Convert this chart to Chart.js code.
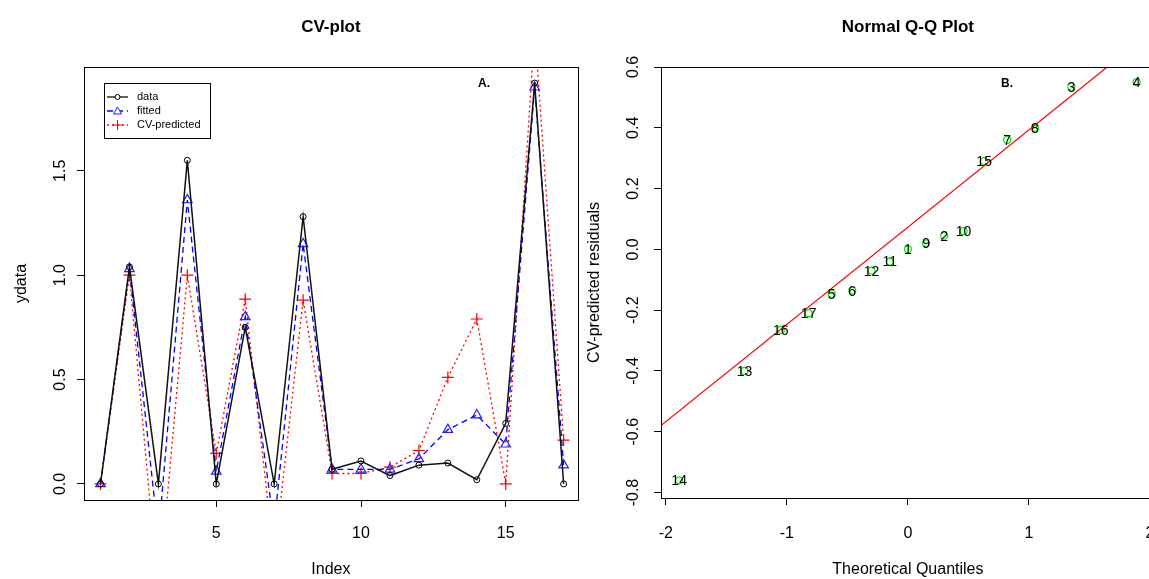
<!DOCTYPE html>
<html>
<head>
<meta charset="utf-8">
<script src="https://cdn.jsdelivr.net/npm/chart.js@4.4.0/dist/chart.umd.min.js"></script>
<style>
  body { margin: 0; background: #fff; overflow: hidden; width: 1149px; height: 579px; position: relative; }
  canvas { position: absolute; top: 0; }
  #cvPlot { left: 0; }
  #qqPlot { left: 585px; }
</style>
</head>
<body>
<canvas id="cvPlot" width="585" height="579"></canvas>
<canvas id="qqPlot" width="575" height="579"></canvas>
<script>
// CV-plot data (index 1..17)
const indexValues = [1, 2, 3, 4, 5, 6, 7, 8, 9, 10, 11, 12, 13, 14, 15, 16, 17];
const ydata = [0.0, 1.04, 0.0, 1.55, 0.0, 0.75, 0.0, 1.28, 0.07, 0.11, 0.04, 0.09, 0.10, 0.02, 0.29, 1.92, 0.0];
const fitted = [0.0, 1.03, -0.25, 1.36, 0.06, 0.80, -0.20, 1.15, 0.07, 0.07, 0.07, 0.12, 0.26, 0.33, 0.19, 1.90, 0.09];
const cvPredicted = [0.0, 1.0, -0.535, 1.0, 0.146, 0.885, -0.36, 0.88, 0.05, 0.05, 0.08, 0.16, 0.51, 0.79, 0.0, 2.18, 0.21];
const cvXTicks = [5, 10, 15];
const cvYTicks = [0.0, 0.5, 1.0, 1.5];

// Normal Q-Q data (sorted by theoretical quantile)
const qqLabels = ['14', '13', '16', '17', '5', '6', '12', '11', '1', '9', '2', '10', '15', '7', '8', '3', '4'];
const qqTheoretical = [-1.89, -1.35, -1.05, -0.82, -0.63, -0.46, -0.30, -0.15, 0.0, 0.15, 0.30, 0.46, 0.63, 0.82, 1.05, 1.35, 1.89];
const qqResiduals = [-0.76, -0.40, -0.265, -0.21, -0.146, -0.136, -0.07, -0.04, 0.0, 0.02, 0.045, 0.06, 0.29, 0.36, 0.40, 0.535, 0.55];
const qqLineIntercept = 0.073;
const qqLineSlope = 0.32;
const qqXTicks = [-2, -1, 0, 1, 2];
const qqYTicks = [-0.8, -0.6, -0.4, -0.2, 0.0, 0.2, 0.4, 0.6];

const fam = '"Liberation Sans", Arial, sans-serif';
Chart.defaults.font.family = fam;
Chart.defaults.font.size = 16;
Chart.defaults.color = '#000';

// R-like frame, rotated y tick labels, title, tag letter
const rPanel = {
  id: 'rPanel',
  afterDraw(chart, args, opts) {
    const ctx = chart.ctx;
    const a = chart.chartArea;
    ctx.save();
    ctx.strokeStyle = '#000';
    ctx.lineWidth = 1;
    ctx.strokeRect(Math.round(a.left) + 0.5, Math.round(a.top) + 0.5, Math.round(a.right - a.left), Math.round(a.bottom - a.top));

    const ys = chart.scales.y;
    ctx.fillStyle = '#000';
    ctx.font = '16px ' + fam;
    ctx.textAlign = 'center';
    ctx.textBaseline = 'middle';
    ys.ticks.forEach(t => {
      const py = ys.getPixelForValue(t.value);
      ctx.save();
      ctx.translate(opts.yLabelX, py);
      ctx.rotate(-Math.PI / 2);
      ctx.fillText(t.label, 0, 0);
      ctx.restore();
    });

    ctx.font = 'bold 17px ' + fam;
    ctx.fillText(opts.title, (a.left + a.right) / 2, 27);

    ctx.font = 'bold 12px ' + fam;
    ctx.fillText(opts.tag, opts.tagX, 84);
    ctx.restore();
  }
};

const cvLegend = {
  id: 'cvLegend',
  afterDraw(chart) {
    const ctx = chart.ctx;
    ctx.save();
    ctx.strokeStyle = '#000';
    ctx.lineWidth = 1;
    ctx.strokeRect(104.5, 83.5, 106, 55);
    ctx.font = '11px ' + fam;
    ctx.textAlign = 'left';
    ctx.textBaseline = 'middle';
    chart.data.datasets.forEach((ds, i) => {
      const y = 97 + i * 14;
      ctx.strokeStyle = ds.borderColor;
      ctx.lineWidth = 1.3;
      ctx.setLineDash(ds.borderDash || []);
      ctx.beginPath();
      ctx.moveTo(107, y);
      ctx.lineTo(128, y);
      ctx.stroke();
      ctx.setLineDash([]);
      ctx.strokeStyle = ds.pointBorderColor;
      ctx.lineWidth = 1;
      ctx.beginPath();
      if (ds.pointStyle === 'circle') {
        ctx.arc(117.5, y, 2.5, 0, Math.PI * 2);
      } else if (ds.pointStyle === 'triangle') {
        ctx.moveTo(117.5, y - 4);
        ctx.lineTo(121.5, y + 3);
        ctx.lineTo(113.5, y + 3);
        ctx.closePath();
      } else {
        ctx.moveTo(112.5, y);
        ctx.lineTo(122.5, y);
        ctx.moveTo(117.5, y - 5);
        ctx.lineTo(117.5, y + 5);
      }
      ctx.fillStyle = '#fff';
      if (ds.pointStyle !== 'cross') ctx.fill();
      ctx.stroke();
      ctx.fillStyle = '#000';
      ctx.fillText(ds.label, 137, y);
    });
    ctx.restore();
  }
};

const qqPointLabels = {
  id: 'qqPointLabels',
  afterDatasetsDraw(chart) {
    const ctx = chart.ctx;
    const meta = chart.getDatasetMeta(1);
    ctx.save();
    ctx.fillStyle = '#000';
    ctx.font = '14px ' + fam;
    ctx.textAlign = 'center';
    ctx.textBaseline = 'middle';
    meta.data.forEach((el, i) => {
      ctx.fillText(qqLabels[i], el.x, el.y + 1);
    });
    ctx.restore();
  }
};

function rAxis(min, max, ticks, fixedSize, title, titlePad, tickPad, isY) {
  return {
    type: 'linear',
    min: min,
    max: max,
    afterBuildTicks: s => { s.ticks = ticks.map(v => ({ value: v })); },
    afterFit: s => {
      if (isY) s.width = fixedSize; else s.height = fixedSize;
      s.paddingLeft = 0; s.paddingRight = 0; s.paddingTop = 0; s.paddingBottom = 0;
    },
    ticks: {
      color: isY ? 'rgba(0,0,0,0)' : '#000',
      padding: tickPad,
      font: { size: 16 },
      maxRotation: 0,
      callback: v => isY ? v.toFixed(1) : String(v)
    },
    grid: { drawOnChartArea: false, drawTicks: true, tickLength: 7, color: '#000', lineWidth: 1 },
    border: { display: true, color: '#000', width: 1 },
    title: { display: true, text: title, font: { size: 16 }, padding: titlePad, color: '#000' }
  };
}

new Chart(document.getElementById('cvPlot'), {
  type: 'line',
  data: {
    datasets: [
      {
        label: 'data',
        data: indexValues.map((x, i) => ({ x: x, y: ydata[i] })),
        borderColor: '#111',
        borderWidth: 1.5,
        pointStyle: 'circle',
        pointRadius: 3,
        pointBorderColor: '#000',
        pointBackgroundColor: 'rgba(0,0,0,0)',
        pointBorderWidth: 1
      },
      {
        label: 'fitted',
        data: indexValues.map((x, i) => ({ x: x, y: fitted[i] })),
        borderColor: '#0000ff',
        borderWidth: 1.3,
        borderDash: [6, 4],
        pointStyle: 'triangle',
        pointRadius: 5.5,
        pointBorderColor: '#2020ff',
        pointBackgroundColor: 'rgba(0,0,0,0)',
        pointBorderWidth: 1.2
      },
      {
        label: 'CV-predicted',
        data: indexValues.map((x, i) => ({ x: x, y: cvPredicted[i] })),
        borderColor: '#ff0000',
        borderWidth: 1.3,
        borderDash: [2, 3],
        pointStyle: 'cross',
        pointRadius: 6,
        pointBorderColor: '#ff0000',
        pointBackgroundColor: 'rgba(0,0,0,0)',
        pointBorderWidth: 1.2
      }
    ]
  },
  options: {
    responsive: false,
    animation: false,
    layout: { padding: { top: 67, right: 7, left: 0, bottom: 0 } },
    elements: { line: { tension: 0 } },
    scales: {
      x: rAxis(0.43, 17.49, cvXTicks, 79, 'Index', { top: 0, bottom: 0 }, 17, false),
      y: rAxis(-0.077, 1.997, cvYTicks, 84, 'ydata', { top: 12, bottom: 0 }, 0, true)
    },
    plugins: {
      legend: { display: false },
      tooltip: { enabled: false },
      rPanel: { title: 'CV-plot', tag: 'A.', tagX: 484, yLabelX: 61 }
    }
  },
  plugins: [rPanel, cvLegend]
});

new Chart(document.getElementById('qqPlot'), {
  type: 'scatter',
  data: {
    datasets: [
      {
        type: 'line',
        data: [-2.2, 2.2].map(x => ({ x: x, y: qqLineIntercept + qqLineSlope * x })),
        borderColor: '#ff0000',
        borderWidth: 1.2,
        pointRadius: 0
      },
      {
        data: qqTheoretical.map((x, i) => ({ x: x, y: qqResiduals[i] })),
        pointStyle: 'circle',
        pointRadius: 3.5,
        pointBorderColor: '#00ee00',
        pointBackgroundColor: 'rgba(0,0,0,0)',
        pointBorderWidth: 1.2
      }
    ]
  },
  options: {
    responsive: false,
    animation: false,
    layout: { padding: { top: 67, right: 5, left: 0, bottom: 0 } },
    scales: {
      x: rAxis(-2.04, 2.04, qqXTicks, 81, 'Theoretical Quantiles', { top: 0, bottom: 0 }, 19, false),
      y: rAxis(-0.818, 0.6, qqYTicks, 76, 'CV-predicted residuals', { top: 0, bottom: 0 }, 0, true)
    },
    plugins: {
      legend: { display: false },
      tooltip: { enabled: false },
      rPanel: { title: 'Normal Q-Q Plot', tag: 'B.', tagX: 422, yLabelX: 49 }
    }
  },
  plugins: [rPanel, qqPointLabels]
});
</script>
</body>
</html>
